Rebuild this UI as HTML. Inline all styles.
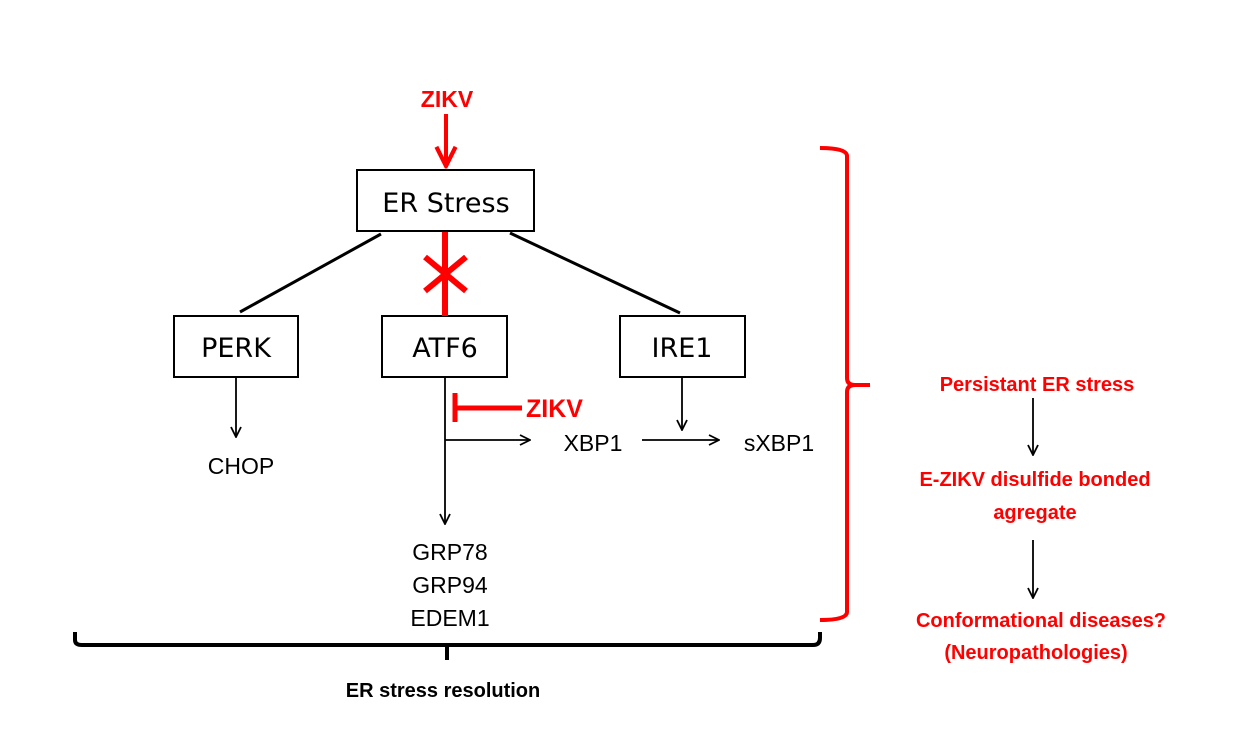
<!DOCTYPE html>
<html><head><meta charset="utf-8"><style>
html,body{margin:0;padding:0;background:#fff;}
svg{display:block;}
</style></head><body>
<svg width="1249" height="743" viewBox="0 0 1249 743" xmlns="http://www.w3.org/2000/svg" font-family="Liberation Sans, Arial, sans-serif">
<defs>
<marker id="ab" viewBox="0 0 12 12" refX="11" refY="6" markerWidth="12" markerHeight="12" markerUnits="userSpaceOnUse" orient="auto">
<path d="M1,1 L11,6 L1,11" fill="none" stroke="#000" stroke-width="1.8"/></marker>
<marker id="ar" viewBox="0 0 20 20" refX="18" refY="10" markerWidth="24" markerHeight="24" markerUnits="userSpaceOnUse" orient="auto">
<path d="M2,2 L18,10 L2,18" fill="none" stroke="#f00" stroke-width="3.5"/></marker>
</defs>
<!-- top ZIKV -->
<text x="447" y="107" font-size="23" font-weight="bold" fill="#f00" text-anchor="middle">ZIKV</text>
<line x1="446" y1="114" x2="446" y2="166" stroke="#f00" stroke-width="4" marker-end="url(#ar)"/>
<!-- boxes -->
<g fill="#fff" stroke="#000" stroke-width="2">
<rect x="357" y="170" width="177" height="61"/>
<rect x="174" y="316" width="124" height="61"/>
<rect x="382" y="316" width="125" height="61"/>
<rect x="620" y="316" width="125" height="61"/>
</g>
<g font-size="27" text-anchor="middle" font-family="DejaVu Sans, sans-serif">
<text x="446" y="212">ER Stress</text>
<text x="236" y="357">PERK</text>
<text x="445" y="357">ATF6</text>
<text x="682" y="357">IRE1</text>
</g>
<!-- connectors -->
<line x1="381" y1="234" x2="240" y2="312" stroke="#000" stroke-width="3"/>
<line x1="510" y1="233" x2="680" y2="313" stroke="#000" stroke-width="3"/>
<line x1="445" y1="232" x2="445" y2="316" stroke="#f00" stroke-width="6"/>
<line x1="425" y1="257" x2="466" y2="291" stroke="#f00" stroke-width="6"/>
<line x1="425" y1="291" x2="466" y2="257" stroke="#f00" stroke-width="6"/>
<!-- ATF6 downstream -->
<line x1="445" y1="378" x2="445" y2="524" stroke="#000" stroke-width="1.8" marker-end="url(#ab)"/>
<line x1="445" y1="440" x2="530" y2="440" stroke="#000" stroke-width="1.8" marker-end="url(#ab)"/>
<line x1="455" y1="393" x2="455" y2="422" stroke="#f00" stroke-width="5"/>
<line x1="455" y1="408" x2="522" y2="408" stroke="#f00" stroke-width="5"/>
<text x="526" y="417" font-size="25" font-weight="bold" fill="#f00">ZIKV</text>
<text x="593" y="451" font-size="23" text-anchor="middle">XBP1</text>
<line x1="642" y1="440" x2="719" y2="440" stroke="#000" stroke-width="1.8" marker-end="url(#ab)"/>
<text x="779" y="451" font-size="23" text-anchor="middle">sXBP1</text>
<line x1="682" y1="378" x2="682" y2="430" stroke="#000" stroke-width="1.8" marker-end="url(#ab)"/>
<line x1="236" y1="378" x2="236" y2="437" stroke="#000" stroke-width="1.8" marker-end="url(#ab)"/>
<text x="241" y="474" font-size="23" text-anchor="middle">CHOP</text>
<g font-size="23" text-anchor="middle">
<text x="450" y="560">GRP78</text>
<text x="450" y="593">GRP94</text>
<text x="450" y="626">EDEM1</text>
</g>
<!-- bottom brace -->
<path d="M75,632 L75,640 Q75,645 82,645 L813,645 Q820,645 820,638 L820,632" fill="none" stroke="#000" stroke-width="4"/>
<path d="M447,645 L447,660" stroke="#000" stroke-width="4"/>
<text x="443" y="697" font-size="20" font-weight="bold" text-anchor="middle">ER stress resolution</text>
<!-- right brace -->
<path d="M820,148 Q847,148 847,156 L847,378 Q847,385 855,385 L870,385 M855,385 Q847,385 847,392 L847,612 Q847,620 820,620" fill="none" stroke="#f00" stroke-width="4"/>
<!-- right text -->
<g font-size="20" font-weight="bold" fill="#f00" text-anchor="middle">
<text x="1037" y="391">Persistant ER stress</text>
<text x="1035" y="486">E-ZIKV disulfide bonded</text>
<text x="1035" y="519">agregate</text>
<text x="1041" y="627">Conformational diseases?</text>
<text x="1036" y="659">(Neuropathologies)</text>
</g>
<line x1="1033" y1="398" x2="1033" y2="455" stroke="#000" stroke-width="1.8" marker-end="url(#ab)"/>
<line x1="1033" y1="540" x2="1033" y2="598" stroke="#000" stroke-width="1.8" marker-end="url(#ab)"/>
</svg>
</body></html>
